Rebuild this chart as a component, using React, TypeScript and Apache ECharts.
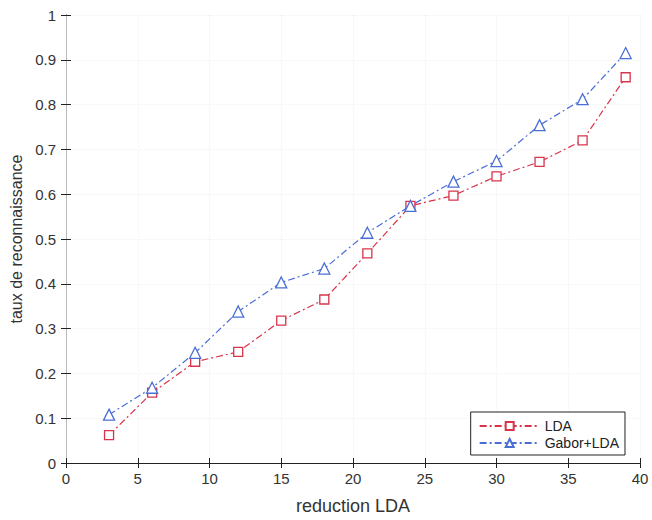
import React, { useEffect, useRef } from "react";
import * as echarts from "echarts";

const xValues = [3, 6, 9, 12, 15, 18, 21, 24, 27, 30, 33, 36, 39];
const ldaValues = [0.062, 0.157, 0.226, 0.248, 0.318, 0.365, 0.468, 0.574, 0.597, 0.64, 0.672, 0.72, 0.861];
const gaborValues = [0.108, 0.168, 0.246, 0.338, 0.403, 0.434, 0.514, 0.574, 0.628, 0.674, 0.754, 0.812, 0.915];
const seriesNames = ["LDA", "Gabor+LDA"];
const xAxisTitle = "reduction LDA";
const yAxisTitle = "taux de reconnaissance";

const RED = "#d8344c";
const BLUE = "#4a6ed6";
const FONT = "Liberation Sans";

export default function App() {
  const ref = useRef<HTMLDivElement>(null);
  useEffect(() => {
    if (!ref.current) return;
    const chart = echarts.init(ref.current, undefined, { renderer: "svg" });
    const axisLine = { show: true, lineStyle: { color: "#222", width: 1 } };
    const labelStyle = { color: "#333", fontSize: 15, fontFamily: FONT };
    chart.setOption({
      animation: false,
      backgroundColor: "#fff",
      grid: { left: 66, right: 12, top: 15, bottom: 55, show: false },
      legend: {
        orient: "vertical",
        right: 27,
        bottom: 65,
        data: seriesNames,
        itemWidth: 60,
        itemHeight: 10,
        itemGap: 3,
        padding: [7, 6, 5, 8],
        borderColor: "#222",
        borderWidth: 1,
        backgroundColor: "#fff",
        textStyle: { color: "#222", fontSize: 14, fontFamily: FONT },
      },
      xAxis: [
        {
          type: "value",
          min: 0,
          max: 40,
          interval: 5,
          name: xAxisTitle,
          nameLocation: "middle",
          nameGap: 34,
          nameTextStyle: { color: "#333", fontSize: 18, fontFamily: FONT },
          axisLine,
          axisTick: { show: true, inside: true, length: 5, lineStyle: { color: "#222" } },
          axisLabel: { ...labelStyle, margin: 8 },
          splitLine: { show: true, lineStyle: { color: "#f2f2f2", type: "dotted" } },
        },
        {
          type: "value",
          position: "top",
          min: 0,
          max: 40,
          interval: 5,
          axisLine,
          axisTick: { show: true, inside: true, length: 5, lineStyle: { color: "#222" } },
          axisLabel: { show: false },
          splitLine: { show: false },
        },
      ],
      yAxis: [
        {
          type: "value",
          min: 0,
          max: 1,
          interval: 0.1,
          name: yAxisTitle,
          nameLocation: "middle",
          nameGap: 39,
          nameTextStyle: { color: "#333", fontSize: 16, fontFamily: FONT },
          axisLine,
          axisTick: { show: true, inside: true, length: 5, lineStyle: { color: "#222" } },
          axisLabel: { ...labelStyle, margin: 10 },
          splitLine: { show: true, lineStyle: { color: "#f2f2f2", type: "dotted" } },
        },
        {
          type: "value",
          position: "right",
          min: 0,
          max: 1,
          interval: 0.1,
          axisLine: { show: true, lineStyle: { color: "#bbb", width: 1 } },
          axisTick: { show: true, inside: true, length: 5, lineStyle: { color: "#222" } },
          axisLabel: { show: false },
          splitLine: { show: false },
        },
      ],
      series: [
        {
          name: seriesNames[0],
          type: "line",
          data: xValues.map((x, i) => [x, ldaValues[i]]),
          symbol: "rect",
          symbolSize: 9,
          showSymbol: true,
          showAllSymbol: true,
          lineStyle: { color: RED, width: 1.2, type: [7, 3, 2, 3] },
          itemStyle: { color: "#fff", borderColor: RED, borderWidth: 1.3 },
        },
        {
          name: seriesNames[1],
          type: "line",
          data: xValues.map((x, i) => [x, gaborValues[i]]),
          symbol: "triangle",
          symbolSize: 11,
          showSymbol: true,
          showAllSymbol: true,
          lineStyle: { color: BLUE, width: 1.2, type: [7, 3, 2, 3] },
          itemStyle: { color: "#fff", borderColor: BLUE, borderWidth: 1.3 },
        },
      ],
    });
    return () => chart.dispose();
  }, []);
  return <div ref={ref} style={{ width: 652, height: 520, position: "absolute", left: 0, top: 0 }} />;
}
